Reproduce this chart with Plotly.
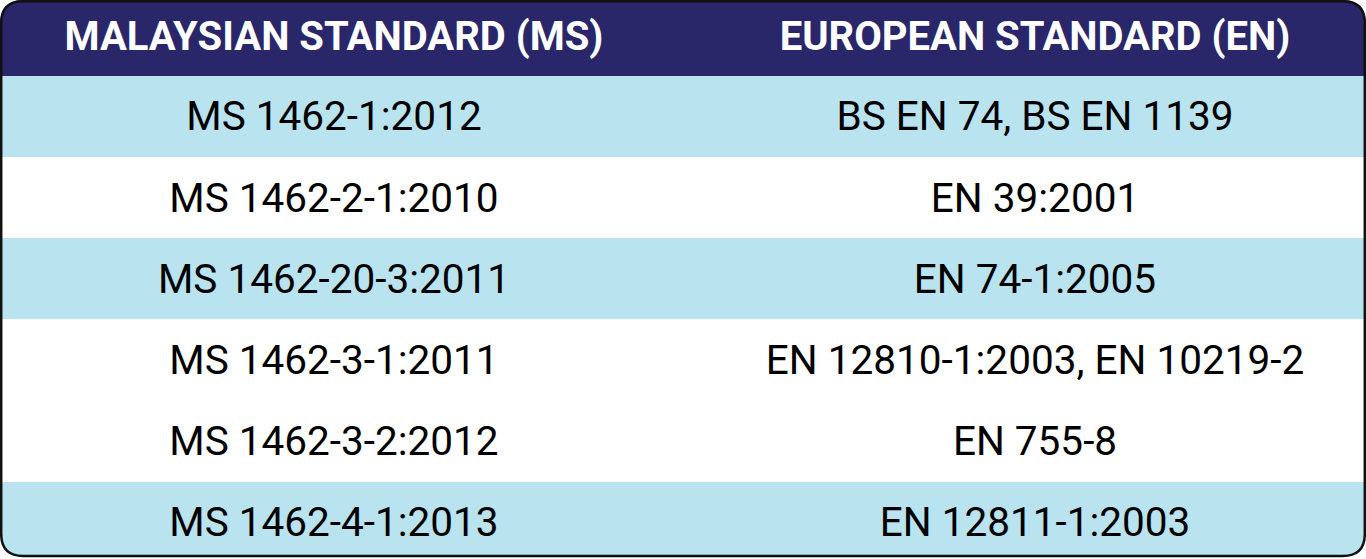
import plotly.graph_objects as go

# table content
headers = ["MALAYSIAN STANDARD (MS)", "EUROPEAN STANDARD (EN)"]
ms_codes = ["MS 1462-1:2012", "MS 1462-2-1:2010", "MS 1462-20-3:2011",
            "MS 1462-3-1:2011", "MS 1462-3-2:2012", "MS 1462-4-1:2013"]
en_codes = ["BS EN 74, BS EN 1139", "EN 39:2001", "EN 74-1:2005",
            "EN 12810-1:2003, EN 10219-2", "EN 755-8", "EN 12811-1:2003"]
shaded = [True, False, True, False, False, True]

W, H = 1366, 559
HEAD_H = 75.7
ROW_H = 81.2
BOTTOM = 556          # centre of the bottom border line
COL_X = [334, 1035]
TEXT_DY = 4           # nudge so text sits optically centred in its band
R = 22
NAVY = "#29266a"
BLUE = "#b9e3ef"

row_y = [HEAD_H + (i + 0.5) * ROW_H for i in range(len(ms_codes))]

fig = go.Figure()

# header band + row bands as full-width horizontal bars
fig.add_trace(go.Bar(
    orientation="h",
    y=[HEAD_H / 2] + row_y,
    x=[W] * (len(ms_codes) + 1),
    width=[HEAD_H] + [ROW_H] * len(ms_codes),
    marker=dict(color=[NAVY] + [BLUE if s else "white" for s in shaded], line_width=0),
    hoverinfo="skip",
))

fig.add_trace(go.Scatter(
    x=COL_X, y=[HEAD_H / 2 + 2.5] * 2, text=headers, mode="text",
    textposition="middle center",
    textfont=dict(family="Roboto", size=40, color="white", weight="bold"),
    hoverinfo="skip",
))

for cx, col in zip(COL_X, [ms_codes, en_codes]):
    fig.add_trace(go.Scatter(
        x=[cx] * len(col), y=[y + TEXT_DY for y in row_y], text=col, mode="text",
        textposition="middle center",
        textfont=dict(family="Roboto", size=40.5, color="black"),
        hoverinfo="skip",
    ))

# white masks outside the rounded frame, then the border
b = 1.2
x0, x1, y0, y1 = b, W - b, b, BOTTOM
corners = [
    f"M 0,0 L {R},0 Q {x0},{y0} 0,{R} Z",
    f"M {W},0 L {W-R},0 Q {x1},{y0} {W},{R} Z",
    f"M 0,{H} L 0,{y1-R} Q {x0},{y1} {R},{y1} L {W-R},{y1} Q {x1},{y1} {W},{y1-R} L {W},{H} Z",
]
shapes = [dict(type="path", path=p, xref="x", yref="y", fillcolor="white",
               line_width=0, layer="above") for p in corners]
border = (f"M {x0+R},{y0} L {x1-R},{y0} Q {x1},{y0} {x1},{y0+R} "
          f"L {x1},{y1-R} Q {x1},{y1} {x1-R},{y1} "
          f"L {x0+R},{y1} Q {x0},{y1} {x0},{y1-R} "
          f"L {x0},{y0+R} Q {x0},{y0} {x0+R},{y0} Z")
shapes.append(dict(type="path", path=border, xref="x", yref="y",
                   line=dict(color="#111111", width=2.5), layer="above"))

fig.update_layout(
    width=W, height=H, margin=dict(l=0, r=0, t=0, b=0),
    paper_bgcolor="white", plot_bgcolor="white",
    showlegend=False, bargap=0, shapes=shapes,
    xaxis=dict(range=[0, W], visible=False, fixedrange=True),
    yaxis=dict(range=[H, 0], visible=False, fixedrange=True),
)

fig.write_html("out.html", config={"displayModeBar": False},
               post_script="document.body.style.margin='0';document.body.style.overflow='hidden';")
